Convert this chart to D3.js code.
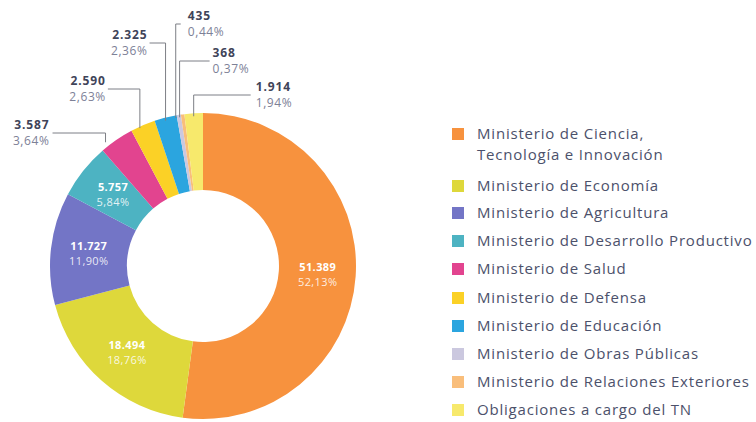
<!DOCTYPE html>
<html>
<head>
<meta charset="utf-8">
<script src="https://cdn.jsdelivr.net/npm/d3@7"></script>
<style>
  body { margin: 0; background: #fff; }
  text { font-family: "Open Sans", sans-serif; }
</style>
</head>
<body>
<div id="chart"></div>
<script>
// data
const ministries = [
  "Ministerio de Ciencia, Tecnología e Innovación",
  "Ministerio de Economía",
  "Ministerio de Agricultura",
  "Ministerio de Desarrollo Productivo",
  "Ministerio de Salud",
  "Ministerio de Defensa",
  "Ministerio de Educación",
  "Ministerio de Obras Públicas",
  "Ministerio de Relaciones Exteriores",
  "Obligaciones a cargo del TN"
];
const amounts = [51389, 18494, 11727, 5757, 3587, 2590, 2325, 435, 368, 1914];
const colors = ["#f7923e", "#ded83b", "#7375c6", "#4db3c2", "#e2448f",
                "#fbd126", "#2ba5df", "#cbc8df", "#f9be7b", "#f7e96c"];
// legend lines (first entry wraps)
const legendLines = [
  ["Ministerio de Ciencia,", "Tecnología e Innovación"],
  ["Ministerio de Economía"], ["Ministerio de Agricultura"],
  ["Ministerio de Desarrollo Productivo"], ["Ministerio de Salud"],
  ["Ministerio de Defensa"], ["Ministerio de Educación"],
  ["Ministerio de Obras Públicas"], ["Ministerio de Relaciones Exteriores"],
  ["Obligaciones a cargo del TN"]
];
// outside callouts for the small slices: elbow height, leg length, side, nudge
const callouts = {
  4: {y: 133, leg: 53, side: "left", dx: -11, gap: 3},
  5: {y: 89, leg: 32, side: "left", dx: -3, gap: 2},
  6: {y: 43, leg: 16, side: "left", dx: 0, gap: 2},
  7: {y: 24, leg: 5, side: "right", dx: -3, gap: 7},
  8: {y: 61, leg: 30, side: "right", dx: -3, gap: 3},
  9: {y: 95, leg: 57, side: "right", dx: 0, gap: 5}
};

const width = 756, height = 422;
const cx = 203, cy = 266, outerR = 153, innerR = 76;

const es = d3.formatLocale({decimal: ",", thousands: ".", grouping: [3], currency: ["$", ""]});
const fmtVal = es.format(",d");
const fmtPct = es.format(".2f");
const total = d3.sum(amounts);

const rows = ministries.map((m, i) => ({name: m, value: amounts[i], color: colors[i], idx: i}));

let svg = d3.select("#chart").append("svg")
  .attr("width", width)
  .attr("height", height);

let pie = d3.pie().value(d => d.value).sort(null);
let arc = d3.arc().innerRadius(innerR).outerRadius(outerR);
let labelArc = d3.arc().innerRadius(115).outerRadius(115);

let g = svg.append("g").attr("transform", `translate(${cx},${cy})`);
let arcs = pie(rows);

g.selectAll("path.slice")
  .data(arcs)
  .join("path")
  .attr("class", "slice")
  .attr("d", arc)
  .attr("fill", d => d.data.color);

// inner labels
let inner = g.selectAll("g.inner")
  .data(arcs.filter(d => callouts[d.data.idx] === undefined))
  .join("g")
  .attr("class", "inner")
  .attr("transform", d => `translate(${labelArc.centroid(d)})`);
inner.append("text")
  .attr("text-anchor", "middle")
  .attr("y", -3)
  .attr("fill", "#fff")
  .attr("font-size", 11)
  .attr("letter-spacing", 0.4)
  .attr("font-weight", 700)
  .text(d => fmtVal(d.data.value));
inner.append("text")
  .attr("text-anchor", "middle")
  .attr("y", 12)
  .attr("fill", "#fff")
  .attr("fill-opacity", 0.85)
  .attr("font-size", 11)
  .attr("letter-spacing", 0.4)
  .text(d => fmtPct(d.data.value / total * 100) + "%");

// outside callouts
let outs = arcs.filter(d => callouts[d.data.idx] !== undefined);
outs.forEach(d => {
  const c = callouts[d.data.idx];
  const a = (d.startAngle + d.endAngle) / 2;
  const px = cx + Math.sin(a) * outerR + c.dx;
  const py = cy - Math.cos(a) * (outerR - 3);
  const ex = c.side === "left" ? px - c.leg : px + c.leg;
  svg.append("path")
    .attr("d", `M${ex},${c.y}H${px}V${py}`)
    .attr("fill", "none")
    .attr("stroke", "#7d7f86")
    .attr("stroke-width", 1);
  const tx = c.side === "left" ? ex - c.gap : ex + c.gap;
  const anchor = c.side === "left" ? "end" : "start";
  svg.append("text")
    .attr("x", tx).attr("y", c.y - 4)
    .attr("text-anchor", anchor)
    .attr("font-size", 12)
    .attr("letter-spacing", 0.9)
    .attr("font-weight", 700)
    .attr("fill", "#3f4459")
    .text(fmtVal(d.data.value));
  svg.append("text")
    .attr("x", tx).attr("y", c.y + 12)
    .attr("text-anchor", anchor)
    .attr("font-size", 12)
    .attr("letter-spacing", 0.6)
    .attr("fill", "#7d8197")
    .text(fmtPct(d.data.value / total * 100) + "%");
});

// legend
const legendY = [134, 186, 213, 241, 269, 298, 326, 354, 382, 410];
let leg = svg.selectAll("g.legend")
  .data(rows)
  .join("g")
  .attr("class", "legend")
  .attr("transform", (d, i) => `translate(452,${legendY[i]})`);
leg.append("rect")
  .attr("x", 0).attr("y", -6)
  .attr("width", 12).attr("height", 12)
  .attr("fill", d => d.color);
leg.each(function(d, i) {
  let t = d3.select(this).append("text")
    .attr("x", 25)
    .attr("y", 5)
    .attr("font-size", 15)
    .attr("letter-spacing", 0.8)
    .attr("fill", "#4c516b");
  legendLines[i].forEach((line, j) => {
    t.append("tspan").attr("x", 25).attr("dy", j === 0 ? 0 : 21).text(line);
  });
});
</script>
</body>
</html>
